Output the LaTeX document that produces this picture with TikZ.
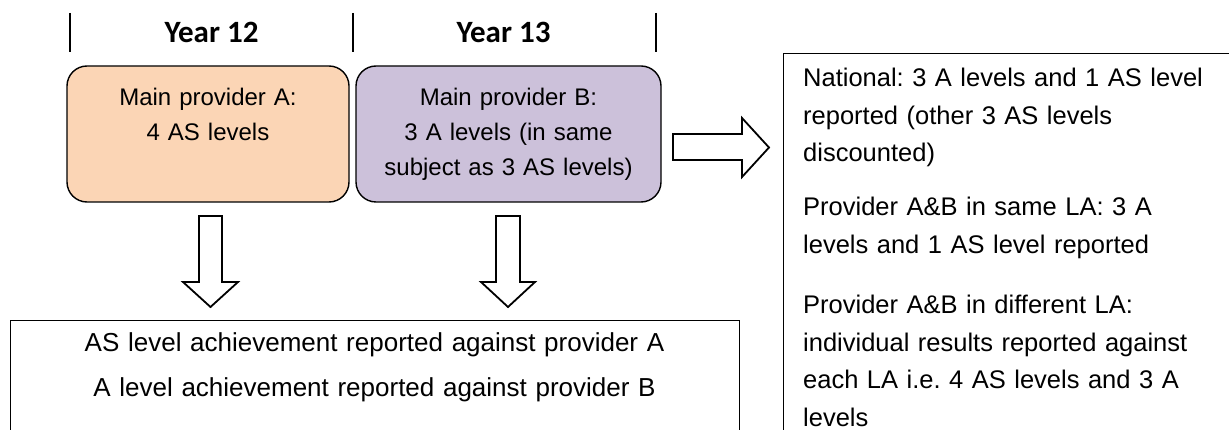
\documentclass[tikz,border=0pt]{standalone}
\usepackage{fontspec}
\setmainfont{Liberation Sans}
\newfontfamily\yearfont{Carlito}
\frenchspacing
\definecolor{peach}{HTML}{FBD5B5}
\definecolor{lavender}{HTML}{CCC1DA}
\tikzset{
  provbox/.style={draw=black, line width=1.4pt, rounded corners=20pt, inner sep=0pt},
  plainbox/.style={draw=black, line width=1.3pt, inner sep=0pt, anchor=north west},
  boxtext/.style={inner sep=0pt, anchor=base, text width=300pt, align=center,
    font=\fontsize{24}{35}\selectfont},
  bodytext/.style={inner sep=0pt, anchor=base west, text width=430pt, align=left,
    font=\fontsize{25.5}{37.5}\selectfont},
  bottext/.style={inner sep=0pt, anchor=base, text width=720pt, align=center,
    font=\fontsize{26}{45}\selectfont},
  yeartext/.style={inner sep=0pt, anchor=base, font=\fontsize{31}{36}\yearfont\bfseries},
  tick/.style={line width=1.8pt},
  blockarrow/.style={draw=black, line width=1.8pt, fill=white, line join=miter}
}
\begin{document}
\begin{tikzpicture}[x=1pt, y=-1pt]
\useasboundingbox (0,0) rectangle (1229,430);
\clip (0,0) rectangle (1229,430);
% year header
\draw[tick] (70,13) -- (70,52);
\draw[tick] (353,13) -- (353,52);
\draw[tick] (656,13) -- (656,52);
\node[yeartext] (y12) at (211.5,43) {Year 12};
\node[yeartext] (y13) at (503.5,43) {Year 13};
% provider boxes
\node[provbox, fill=peach, minimum width=282pt, minimum height=136pt] (pa) at (208,134) {};
\node[provbox, fill=lavender, minimum width=305pt, minimum height=136pt] (pb) at (508.5,134) {};
\node[boxtext] (pat) at (208,106) {Main provider A:\\4 AS levels};
\node[boxtext] (pbt) at (508.5,106) {Main provider B:\\3 A levels (in same\\subject as 3 AS levels)};
% right box
\node[plainbox, minimum width=520pt, minimum height=420pt] (rb) at (783,53) {};
\node[bodytext] (r1) at (803,87) {National: 3 A levels and 1 AS level\\reported (other 3 AS levels\\discounted)};
\node[bodytext] (r2) at (803,216) {Provider A\&B in same LA: 3 A\\levels and 1 AS level reported};
\node[bodytext] (r3) at (803,314) {Provider A\&B in different LA:\\individual results reported against\\each LA i.e. 4 AS levels and 3 A\\levels};
% bottom box
\node[plainbox, minimum width=729pt, minimum height=150pt] (bb) at (10,320) {};
\node[bottext] (bt) at (374.5,352) {AS level achievement reported against provider A\\A level achievement reported against provider B};
% block arrows
\draw[blockarrow] (673,134) -- (742,134) -- (742,118) -- (769,147.5) -- (742,177) -- (742,160) -- (673,160) -- cycle;
\draw[blockarrow] (199,216) -- (222,216) -- (222,282) -- (238,282) -- (210.5,307) -- (183,282) -- (199,282) -- cycle;
\draw[blockarrow] (496,216) -- (520,216) -- (520,282) -- (535,282) -- (508,307) -- (481,282) -- (496,282) -- cycle;
\end{tikzpicture}
\end{document}
